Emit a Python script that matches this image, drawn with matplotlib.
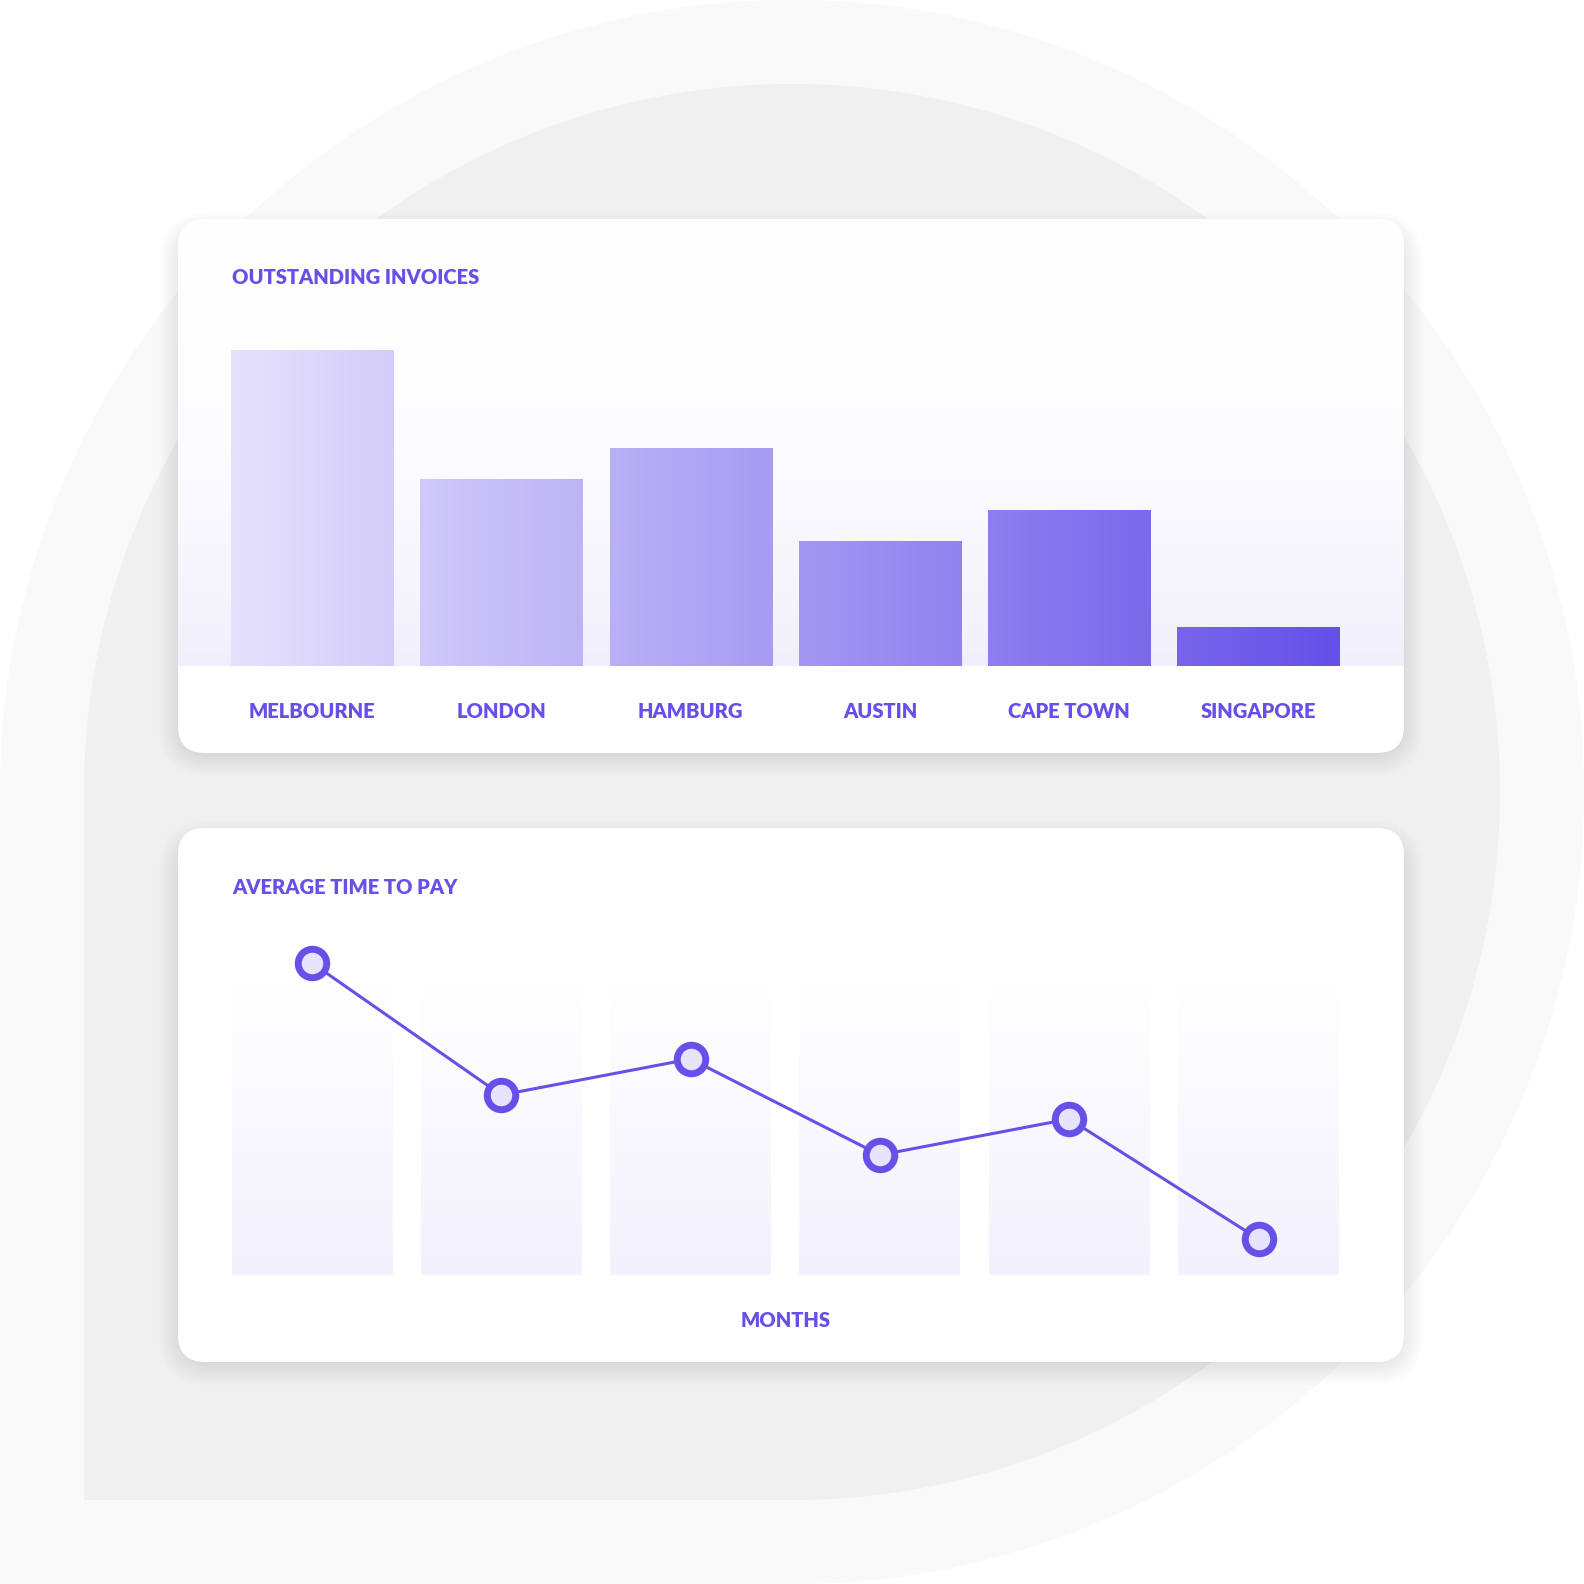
import numpy as np
import matplotlib
matplotlib.use("Agg")
from matplotlib import pyplot as plt
from matplotlib.patches import Circle, Rectangle, FancyBboxPatch
from matplotlib.colors import to_rgb

# data
cities = ["MELBOURNE", "LONDON", "HAMBURG", "AUSTIN", "CAPE TOWN", "SINGAPORE"]
invoices = [81, 48, 56, 32, 40, 10]
pay_days = [52, 30, 36, 20, 26, 6]

PURPLE = "#6551e8"
LIGHT = "#e6e2fd"
plt.rcParams["font.family"] = ["Lato", "DejaVu Sans"]
FS = 14.5
FW = "heavy"

W = H = 1584
fig = plt.figure(figsize=(W / 100, H / 100), dpi=100)

# background decorations, pixel coordinates
bg = fig.add_axes([0, 0, 1, 1], zorder=0)
bg.set_xlim(0, W)
bg.set_ylim(H, 0)
bg.axis("off")
bg.add_patch(Circle((792, 792), 792, color="#f9f9f9", lw=0))
bg.add_patch(Rectangle((0, 792), 792, 792, color="#f9f9f9", lw=0))
bg.add_patch(Circle((792, 792), 708, color="#f0f0f0", lw=0))
bg.add_patch(Rectangle((84, 792), 708, 708, color="#f0f0f0", lw=0))


def card(y0, y1):
    x0, x1 = 178, 1404
    # soft shadow, mostly under the card
    for i in range(12):
        p = 1 + i * 2.0
        bg.add_patch(FancyBboxPatch((x0 - p + 4, y0 - p + 16), x1 - x0 + 2 * p - 8, y1 - y0 + 2 * p - 16,
                                    boxstyle=f"round,pad=0,rounding_size={27 + p}",
                                    fc="black", ec="none", alpha=0.006))
    c = FancyBboxPatch((x0, y0), x1 - x0, y1 - y0, boxstyle="round,pad=0,rounding_size=27",
                       fc="white", ec="none")
    bg.add_patch(c)
    return c


top_card = card(219, 753)
bot_card = card(828, 1362)

# faint vertical wash behind the bars of the first card
ramp = np.linspace(0, 1, 200)[:, None, None] ** 2.2
wash = (1 - ramp) * np.array(to_rgb("#ffffff")) + ramp * np.array(to_rgb("#f2effc"))
im = bg.imshow(wash, extent=(178, 1404, 666, 219), origin="upper", aspect="auto", zorder=2)
im.set_clip_path(top_card)
bg.set_xlim(0, W)
bg.set_ylim(H, 0)

fig.text(232 / W, 1 - 277.5 / H, "OUTSTANDING INVOICES", color=PURPLE, fontsize=FS,
         fontweight=FW, va="center", ha="left")
fig.text(232 / W, 1 - 887 / H, "AVERAGE TIME TO PAY", color=PURPLE, fontsize=FS,
         fontweight=FW, va="center", ha="left")

# bar chart
x = np.arange(len(cities))
left_px, right_px = 312 - 94.65, 1258.5 + 94.65
ax1 = fig.add_axes([left_px / W, 1 - 666 / H, (right_px - left_px) / W, 350.6 / H], zorder=1)
ax1.patch.set_alpha(0)
bars = ax1.bar(x, invoices, width=0.856, color="none", lw=0)
gx = np.linspace(0, 1, 400)
c0, c1 = np.array(to_rgb(LIGHT)), np.array(to_rgb("#6550e8"))
# gradient runs from left edge of first bar to right edge of last bar
g0, g1 = -0.428, 5.428
grad = ((1 - gx)[:, None] * c0 + gx[:, None] * c1)[None, :, :]
for b in bars:
    gi = ax1.imshow(grad, extent=(g0, g1, 0, 90), aspect="auto", origin="lower", zorder=2)
    gi.set_clip_path(b)
ax1.set_xlim(-0.5, 5.5)
ax1.set_ylim(0, 90)
ax1.set_xticks(x, cities)
ax1.tick_params(axis="x", length=0, pad=26, labelsize=FS, labelcolor=PURPLE)
for t in ax1.get_xticklabels():
    t.set_fontweight(FW)
ax1.set_yticks([])
for s in ax1.spines.values():
    s.set_visible(False)

# line chart
ax2 = fig.add_axes([left_px / W, 1 - 1275 / H, (right_px - left_px) / W, 345 / H], zorder=1)
ax2.patch.set_alpha(0)
cols = ax2.bar(x, [48.3] * len(x), width=0.85, color="none", lw=0)
vy = np.linspace(0, 1, 200)[:, None, None]
vgrad = (1 - vy) * np.array(to_rgb("#f3f1fd")) + vy * np.array(to_rgb("#ffffff"))
for b in cols:
    vi = ax2.imshow(vgrad, extent=(-0.5, 5.5, 0, 48.3), aspect="auto", origin="lower", zorder=1)
    vi.set_clip_path(b)
ax2.plot(x, pay_days, color=PURPLE, lw=2.2, marker="o", ms=20.5, mew=5,
         mfc="#e6e3fd", mec=PURPLE, zorder=3, clip_on=False)
ax2.set_xlim(-0.5, 5.5)
ax2.set_ylim(0, 57.5)
ax2.set_xticks([])
ax2.set_yticks([])
ax2.set_xlabel("MONTHS", color=PURPLE, fontsize=FS, fontweight=FW, labelpad=26)
for s in ax2.spines.values():
    s.set_visible(False)

fig.savefig("out.png", dpi=100)
